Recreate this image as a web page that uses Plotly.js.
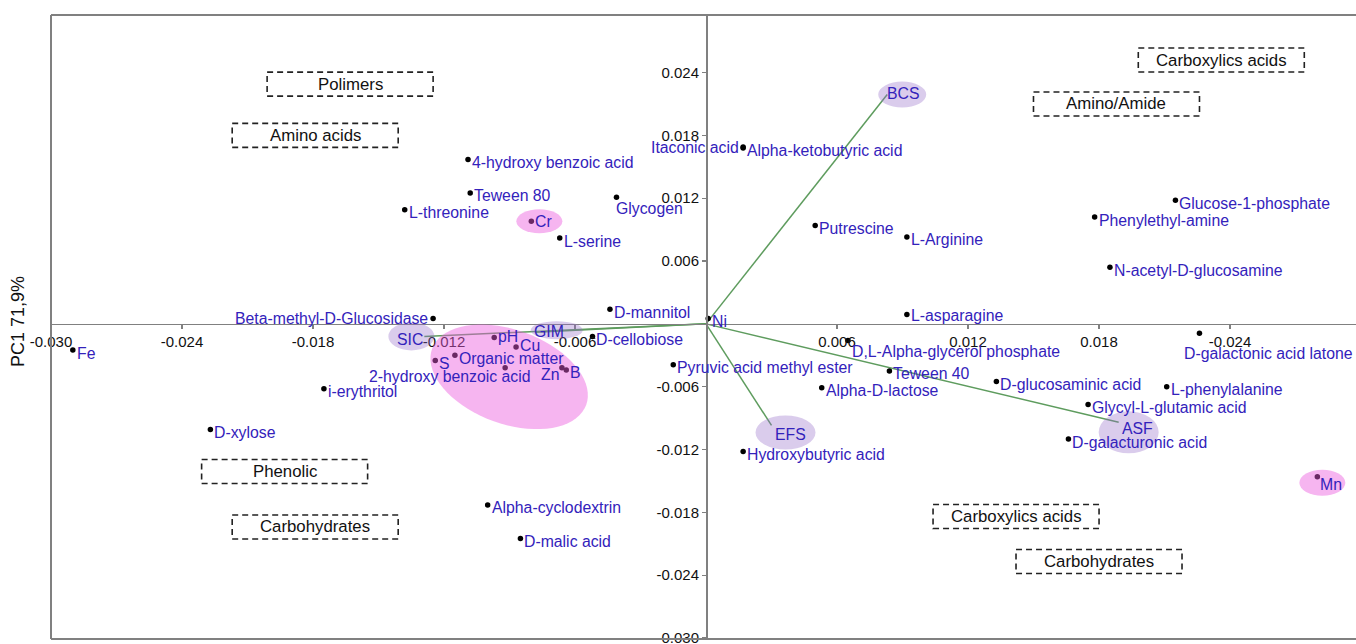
<!DOCTYPE html>
<html>
<head>
<meta charset="utf-8">
<script src="https://cdn.plot.ly/plotly-3.0.1.min.js"></script>
<style>html,body{margin:0;padding:0;background:#fff;}#chart{width:1356px;height:644px;}</style>
</head>
<body>
<div id="chart"></div>
<script>
// ---------- DATA ----------
const pointNames = ["Fe","D-xylose","i-erythritol","Beta-methyl-D-Glucosidase","L-threonine","Teween 80",
  "4-hydroxy benzoic acid","Cr","L-serine","Glycogen","D-mannitol","D-cellobiose","pH","Cu","Organic matter",
  "S","2-hydroxy benzoic acid","Zn","B","Ni","Pyruvic acid methyl ester","Itaconic acid","Alpha-ketobutyric acid",
  "Putrescine","L-Arginine","L-asparagine","D,L-Alpha-glycerol phosphate","Teween 40","Alpha-D-lactose",
  "Hydroxybutyric acid","D-glucosaminic acid","Glycyl-L-glutamic acid","D-galacturonic acid","L-phenylalanine",
  "D-galactonic acid latone","Glucose-1-phosphate","Phenylethyl-amine","N-acetyl-D-glucosamine","Mn",
  "Alpha-cyclodextrin","D-malic acid"];
const pc2Values = [-0.0290,-0.0227,-0.0175,-0.0125,-0.0138,-0.0108,
  -0.0109,-0.0080,-0.0067,-0.0041,-0.0044,-0.0052,-0.0097,-0.0087,-0.0115,
  -0.0124,-0.0092,-0.0066,-0.0064,0.0001,-0.0015,0.0017,0.0017,
  0.0050,0.0092,0.0092,0.0065,0.0084,0.0053,
  0.0017,0.0133,0.0175,0.0166,0.0211,
  0.0226,0.0215,0.0178,0.0185,0.0280,
  -0.0100,-0.0085];
const pc1Values = [-0.0025,-0.0101,-0.0062,0.0005,0.0109,0.0125,
  0.0157,0.0098,0.0082,0.0121,0.0014,-0.0012,-0.0013,-0.0022,-0.0030,
  -0.0035,-0.0042,-0.0042,-0.0044,0.0005,-0.0039,0.0169,0.0168,
  0.0094,0.0083,0.0009,-0.0016,-0.0045,-0.0061,
  -0.0122,-0.0055,-0.0077,-0.0110,-0.0060,
  -0.0009,0.0118,0.0102,0.0054,-0.0146,
  -0.0173,-0.0205];

const vectorNames = ["BCS","EFS","ASF","GIM","SIC"];
const vectorPC2 = [0.0083,0.0030,0.0189,-0.0078,-0.0129];
const vectorPC1 = [0.0219,-0.0097,-0.0094,-0.0008,-0.0012];

const groupNames = ["Polimers","Amino acids","Phenolic","Carbohydrates","Carboxylics acids","Amino/Amide","Carboxylics acids","Carbohydrates"];
const groupPC2 = [-0.0163,-0.0179,-0.0193,-0.0179,0.0236,0.0188,0.0142,0.0180];
const groupPC1 = [0.0229,0.0180,-0.0141,-0.0194,0.0252,0.0210,-0.0184,-0.0227];

const xTickVals = [-0.030,-0.024,-0.018,-0.012,-0.006,0.006,0.012,0.018,0.024];
const xTickText = ["-0.030","-0.024","-0.018","-0.012","-0.006","0.006","0.012","0.018","-0.024"];
const yTickVals = [-0.030,-0.024,-0.018,-0.012,-0.006,0.006,0.012,0.018,0.024];
const yTickText = ["-0.030","-0.024","-0.018","-0.012","-0.006","0.006","0.012","0.018","0.024"];
const yTitle = "PC1 71,9%";

// ---------- LAYOUT / STYLE ----------
const W = 1356, H = 644;
const M = {l:51, r:0, t:15, b:5};
const xRange = [-0.030, 0.02977];
const yRange = [-0.0301, 0.0295];
const plotW = W - M.l - M.r, plotH = H - M.t - M.b;
const pxX = plotW / (xRange[1]-xRange[0]);
const pxY = plotH / (yRange[1]-yRange[0]);

const labelColor = "#3322bb";
const labelFont = {family:"Liberation Sans, Arial, sans-serif", size:15.8, color:labelColor};
const pink = "rgba(236,92,222,0.45)";
const purple = "rgba(150,110,200,0.35)";

// label placement overrides (xanchor, xshift, yshift in px)
const place = {
  "Beta-methyl-D-Glucosidase":["right",-4,0],
  "Itaconic acid":["right",-3,-1],
  "Glycogen":["left",-1,-11],
  "2-hydroxy benzoic acid":["center",-55,-9],
  "Zn":["right",-2,-7],
  "pH":["left",3,1],
  "Cu":["left",3,1],
  "Cr":["left",3,0],
  "L-asparagine":["left",3,-1],
  "D,L-Alpha-glycerol phosphate":["left",3,-11],
  "D-galactonic acid latone":["left",-16,-20],
  "Mn":["left",2,-8],
  "BCS":["left",-1,1],
  "EFS":["left",2,-9],
  "ASF":["left",2,-6],
  "GIM":["left",-3,1],
  "SIC":["right",0,-3]
};

const annotations = [];
function addLabel(name, x, y){
  const p = place[name] || ["left",3,-3];
  annotations.push({x:x, y:y, xref:"x", yref:"y", text:name, showarrow:false,
    xanchor:p[0], yanchor:"middle", xshift:p[1], yshift:p[2], font:labelFont, borderpad:0});
}
pointNames.forEach((n,i)=>addLabel(n, pc2Values[i], pc1Values[i]));
vectorNames.forEach((n,i)=>addLabel(n, vectorPC2[i], vectorPC1[i]));

// group boxes
const shapes = [];
const boxHalfW = 83/pxX, boxHalfH = 12/pxY;
groupNames.forEach((g,i)=>{
  shapes.push({type:"rect", xref:"x", yref:"y",
    x0:groupPC2[i]-boxHalfW, x1:groupPC2[i]+boxHalfW, y0:groupPC1[i]-boxHalfH, y1:groupPC1[i]+boxHalfH,
    line:{color:"#222", width:1.6, dash:"6px,4px"}, fillcolor:"rgba(0,0,0,0)", layer:"above"});
  annotations.push({x:groupPC2[i], y:groupPC1[i], xref:"x", yref:"y", text:g, showarrow:false,
    xanchor:"center", yanchor:"middle", yshift:0,
    font:{family:"Liberation Sans, Arial, sans-serif", size:16.8, color:"#111"}});
});

// ellipses
function ellipse(cx, cy, rxPx, ryPx, color){
  shapes.push({type:"circle", xref:"x", yref:"y", x0:cx-rxPx/pxX, x1:cx+rxPx/pxX, y0:cy-ryPx/pxY, y1:cy+ryPx/pxY,
    fillcolor:color, line:{width:0}, layer:"above"});
}
function idx(n){return pointNames.indexOf(n);}
function vidx(n){return vectorNames.indexOf(n);}
// point highlights
ellipse(pc2Values[idx("Cr")]+8/pxX, pc1Values[idx("Cr")], 23, 12, pink);
ellipse(pc2Values[idx("Mn")]+5/pxX, pc1Values[idx("Mn")]-6/pxY, 23, 13, pink);
// vector highlights
ellipse(vectorPC2[vidx("BCS")]+15/pxX, vectorPC1[vidx("BCS")]+0/pxY, 24, 13, purple);
ellipse(vectorPC2[vidx("EFS")]+14/pxX, vectorPC1[vidx("EFS")]-7/pxY, 30, 17, purple);
ellipse(vectorPC2[vidx("ASF")]+10/pxX, vectorPC1[vidx("ASF")]-10/pxY, 30, 21, purple);
ellipse(vectorPC2[vidx("GIM")]+21/pxX, vectorPC1[vidx("GIM")]+2/pxY, 26, 9, purple);
ellipse(vectorPC2[vidx("SIC")]-13/pxX, vectorPC1[vidx("SIC")]+0/pxY, 23, 14, purple);
// big rotated ellipse around soil variables
(function(){
  const cx = pc2Values[idx("2-hydroxy benzoic acid")] + 4/pxX;
  const cy = pc1Values[idx("2-hydroxy benzoic acid")] - 9/pxY;
  const a = 82, b = 47, th = 20*Math.PI/180;
  let d = "";
  for(let k=0;k<=72;k++){
    const t = 2*Math.PI*k/72;
    const dx = a*Math.cos(t)*Math.cos(th) - b*Math.sin(t)*Math.sin(th);
    const dy = a*Math.cos(t)*Math.sin(th) + b*Math.sin(t)*Math.cos(th); // screen-down
    const X = cx + dx/pxX, Y = cy - dy/pxY;
    d += (k===0?"M":"L") + X + "," + Y + " ";
  }
  d += "Z";
  shapes.push({type:"path", xref:"x", yref:"y", path:d, fillcolor:pink, line:{width:0}, layer:"above"});
})();

// frame (top, left, bottom)
const frameLine = {color:"#808080", width:2};
shapes.push({type:"line", xref:"paper", yref:"paper", x0:0, x1:1.01, y0:1, y1:1, line:frameLine});
shapes.push({type:"line", xref:"paper", yref:"paper", x0:0, x1:0, y0:0, y1:1, line:frameLine});
shapes.push({type:"line", xref:"paper", yref:"paper", x0:0, x1:1.01, y0:0, y1:0, line:frameLine});

// y title
annotations.push({xref:"paper", yref:"paper", x:(18-M.l)/plotW, y:(H-M.b-322)/plotH, text:yTitle,
  showarrow:false, textangle:-90, xanchor:"center", yanchor:"middle",
  font:{family:"Liberation Sans, Arial, sans-serif", size:18, color:"#111"}});

// ---------- TRACES ----------
const traces = [];
vectorNames.forEach((n,i)=>{
  traces.push({type:"scatter", mode:"lines", x:[0, vectorPC2[i]], y:[0, vectorPC1[i]],
    line:{color:"#5e9c5e", width:1.5}, hoverinfo:"skip", showlegend:false, cliponaxis:false});
});
traces.push({type:"scatter", mode:"markers", x:pc2Values, y:pc1Values, text:pointNames,
  marker:{color:"#000", size:5.5}, showlegend:false, cliponaxis:false});

const axisCommon = {
  showgrid:false, zeroline:false, showline:true, linecolor:"#808080", linewidth:1.6,
  ticks:"outside", ticklen:4, tickcolor:"#808080", tickwidth:1.2, automargin:false,
  ticklabeloverflow:"allow",
  tickfont:{family:"Liberation Sans, Arial, sans-serif", size:15, color:"#111"}, anchor:"free"
};

const layout = {
  width:W, height:H, margin:M, paper_bgcolor:"#fff", plot_bgcolor:"#fff", showlegend:false,
  xaxis: Object.assign({}, axisCommon, {range:xRange, tickmode:"array", tickvals:xTickVals, ticktext:xTickText,
    position:(0-yRange[0])/(yRange[1]-yRange[0])}),
  yaxis: Object.assign({}, axisCommon, {range:yRange, tickmode:"array", tickvals:yTickVals, ticktext:yTickText,
    position:(0-xRange[0])/(xRange[1]-xRange[0])}),
  shapes:shapes, annotations:annotations
};

Plotly.newPlot("chart", traces, layout, {displayModeBar:false, staticPlot:true});
</script>
</body>
</html>
